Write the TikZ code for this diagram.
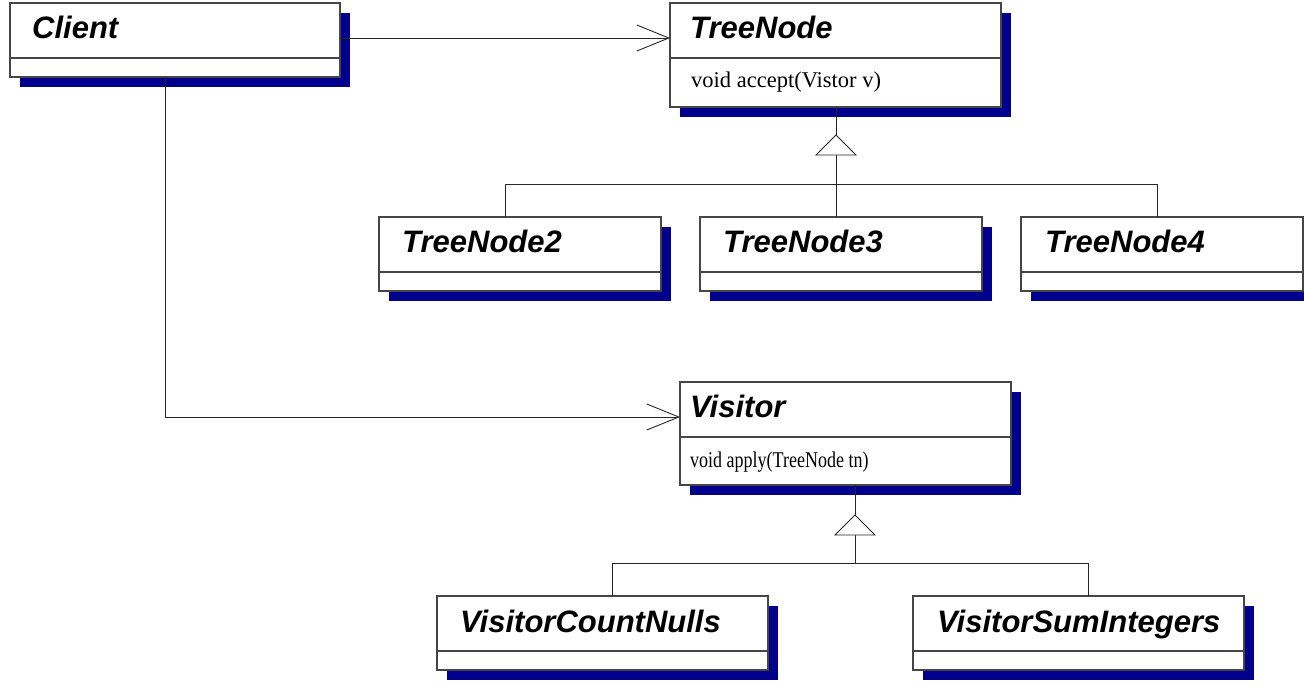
\documentclass[tikz,border=0pt]{standalone}
\usepackage{fontspec}
\setmainfont{Liberation Serif}
\newfontfamily\clsfont{Liberation Sans}
\usetikzlibrary{arrows.meta,shadows}
\definecolor{shadowblue}{RGB}{0,0,140}
\definecolor{boxline}{RGB}{70,70,70}
\tikzset{
  cls/.style={draw=boxline, line width=1.1pt, fill=white, inner sep=0pt, outer sep=0pt,
    anchor=north west, general shadow={shadow xshift=10pt, shadow yshift=-10pt, fill=shadowblue}},
  compline/.style={draw=boxline, line width=1.1pt},
  clsname/.style={anchor=base west, inner sep=0pt, font=\clsfont\bfseries\itshape\fontsize{31}{37}\selectfont},
  member/.style={anchor=base west, inner sep=0pt, font=\fontsize{22.5}{27}\selectfont},
  conn/.style={draw=black!85, line width=0.9pt},
  assoc/.style={conn, -{Straight Barb[length=32pt, width=26pt, line width=0.9pt]}},
  gentri/.style={conn, fill=white, line join=miter}
}
\begin{document}
\begin{tikzpicture}[x=1pt, y=-1pt]
\useasboundingbox (0,0) rectangle (1304,686);

% class boxes
\node[cls, minimum width=330pt, minimum height=74pt] (client) at (10,3) {};
\node[cls, minimum width=331pt, minimum height=104pt] (treenode) at (670,3) {};
\node[cls, minimum width=282pt, minimum height=74pt] (tn2) at (379,217) {};
\node[cls, minimum width=282pt, minimum height=74pt] (tn3) at (700,217) {};
\node[cls, minimum width=282pt, minimum height=74pt] (tn4) at (1021,217) {};
\node[cls, minimum width=331pt, minimum height=103pt] (visitor) at (680,382) {};
\node[cls, minimum width=331pt, minimum height=74pt] (vcn) at (437,596) {};
\node[cls, minimum width=331pt, minimum height=74pt] (vsi) at (913,596) {};

% compartment lines
\foreach \b in {client,treenode,tn2,tn3,tn4,visitor,vcn,vsi}{
  \draw[compline] ([yshift=-55pt]\b.north west) -- ([yshift=-55pt]\b.north east);
}

% names
\node[clsname] (clientname) at (32,38) {Client};
\node[clsname] (treenodename) at (690,38) {TreeNode};
\node[member] (treenodeop) at (691,87) {void accept(Vistor v)};
\node[clsname] (tn2name) at (402,252) {TreeNode2};
\node[clsname] (tn3name) at (723,252) {TreeNode3};
\node[clsname] (tn4name) at (1045,252) {TreeNode4};
\node[clsname] (visitorname) at (690,417) {Visitor};
\node[member] (visitorop) at (690,467) {\scalebox{0.8}[1]{void apply(TreeNode tn)}};
\node[clsname] (vcnname) at (460,632) {VisitorCountNulls};
\node[clsname] (vsiname) at (937,632) {VisitorSumIntegers};

% associations
\draw[assoc] ([yshift=-35pt]client.north east) -- ([yshift=-35pt]treenode.north west);
\coordinate (k1) at (165,417);
\draw[assoc] (k1 |- client.south) -- (k1) -- ([yshift=-35pt]visitor.north west);

% generalization TreeNode
\coordinate (t1) at (836,135);
\coordinate (b2) at (505,184);
\coordinate (b3) at (836,184);
\coordinate (b4) at (1157,184);
\draw[conn] (t1 |- treenode.south) -- (t1);
\draw[conn] ([yshift=20pt]t1) -- (t1 |- tn3.north);
\draw[conn] (b2 |- tn2.north) -- (b2) -- (b4) -- (b4 |- tn4.north);
\draw[gentri] (t1) -- ++(-20,20) -- ++(40,0) -- cycle;

% generalization Visitor
\coordinate (t2) at (855,515);
\coordinate (c1) at (612,563);
\coordinate (c2) at (1088,563);
\draw[conn] (t2 |- visitor.south) -- (t2);
\draw[conn] ([yshift=20pt]t2) -- (t2 |- c1);
\draw[conn] (c1 |- vcn.north) -- (c1) -- (c2) -- (c2 |- vsi.north);
\draw[gentri] (t2) -- ++(-20,20) -- ++(40,0) -- cycle;
\end{tikzpicture}
\end{document}
